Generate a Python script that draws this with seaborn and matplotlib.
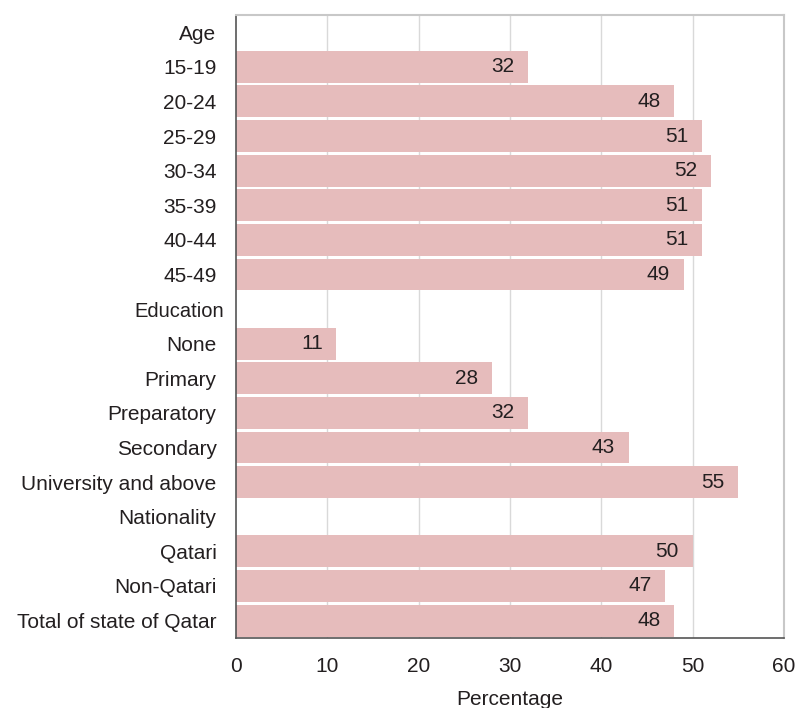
import matplotlib
matplotlib.use("Agg")
import matplotlib.pyplot as plt
import matplotlib.transforms as mtransforms
import seaborn as sns
import pandas as pd

# Row order on the y axis, including group headers (no bar)
rows = ["Age", "15-19", "20-24", "25-29", "30-34", "35-39", "40-44", "45-49",
        "Education", "None", "Primary", "Preparatory", "Secondary",
        "University and above", "Nationality", "Qatari", "Non-Qatari",
        "Total of state of Qatar"]
headers = ["Age", "Education", "Nationality"]

# Bars with values
categories = ["15-19", "20-24", "25-29", "30-34", "35-39", "40-44", "45-49",
              "None", "Primary", "Preparatory", "Secondary", "University and above",
              "Qatari", "Non-Qatari", "Total of state of Qatar"]
values = [32, 48, 51, 52, 51, 51, 49,
          11, 28, 32, 43, 55,
          50, 47, 48]
xticks = [0, 10, 20, 30, 40, 50, 60]

sns.set_style("white")
plt.rcParams["font.family"] = ["Liberation Sans", "DejaVu Sans"]

df = pd.DataFrame({"group": categories, "pct": values})

fig = plt.figure(figsize=(8.0, 7.08), dpi=100)
ax = fig.add_axes([0.295, 0.099, 0.685, 0.880])

sns.barplot(data=df, x="pct", y="group", order=rows, color="#e6bcbc",
            saturation=1, width=0.92, edgecolor="none", ax=ax, zorder=2)

ax.set_xlim(0, 60)
ax.set_ylim(len(rows) - 0.5, -0.5)
ax.set_xticks(xticks)
ax.set_xticklabels([str(t) for t in xticks])
ax.set_xlabel("Percentage", fontsize=15, labelpad=10, color="#231f20")
ax.set_ylabel("")

# Vertical gridlines behind the bars
for t in xticks[1:-1]:
    ax.axvline(t, color="#d9d9d9", lw=1.0, zorder=1)

ax.tick_params(axis="both", length=0, labelsize=15, colors="#231f20")
ax.tick_params(axis="y", pad=14)
ax.tick_params(axis="x", pad=14)
for lbl in ax.get_yticklabels():
    if lbl.get_text() == "Education":
        lbl.set_fontsize(14.5)
        lbl.set_transform(lbl.get_transform() +
                          mtransforms.ScaledTranslation(7 / 100, 0, fig.dpi_scale_trans))

# Value labels inside the bar ends
for cat, v in zip(categories, values):
    ax.text(v - 1.5, rows.index(cat), str(v), ha="right", va="center",
            fontsize=15, color="#231f20", zorder=3)

for side in ["top", "right"]:
    ax.spines[side].set_color("#c8c8c8")
    ax.spines[side].set_linewidth(1.5)
for side in ["left", "bottom"]:
    ax.spines[side].set_color("#555555")
    ax.spines[side].set_linewidth(1.2)

fig.savefig("out.png", dpi=100)
